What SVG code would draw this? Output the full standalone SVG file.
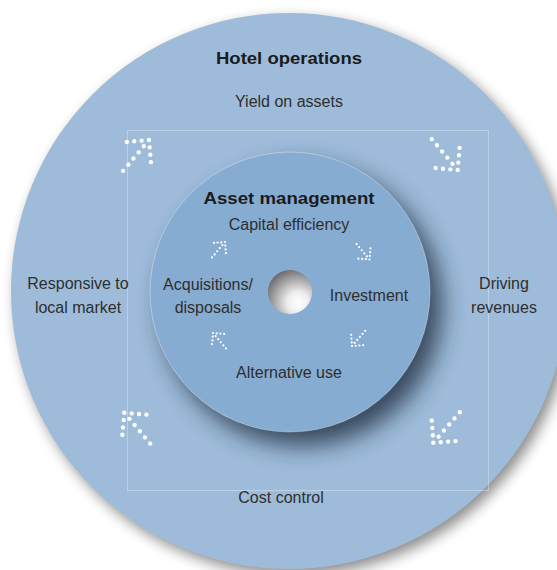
<svg xmlns="http://www.w3.org/2000/svg" width="557" height="570" viewBox="0 0 557 570">
  <style>
    .label { font-family: "Liberation Sans", Arial, sans-serif; font-size: 16px; fill: #2e2e2e; text-anchor: middle; }
    .title { font-family: "Liberation Sans", Arial, sans-serif; font-size: 17px; font-weight: bold; fill: #1b1b1b; text-anchor: middle; }
    .dot { fill: #ffffff; }
  </style>
  <defs>
    <filter id="softShadow" x="-20%" y="-20%" width="140%" height="140%">
      <feGaussianBlur stdDeviation="7"/>
    </filter>
    <filter id="deepShadow" x="-30%" y="-30%" width="160%" height="160%">
      <feGaussianBlur stdDeviation="12"/>
    </filter>
    <radialGradient id="hubFill" cx="0.68" cy="0.74" r="0.8">
      <stop offset="0" stop-color="#ffffff"/>
      <stop offset="0.3" stop-color="#eeeeee"/>
      <stop offset="1" stop-color="#686868"/>
    </radialGradient>
    <!-- dotted corner arrow pointing up-right; corner of the head at 0,0 -->
    <g id="dotArrow" class="dot">
      <circle cx="0" cy="0" r="2.2"/>
      <circle cx="-7.4" cy="0" r="2.2"/>
      <circle cx="-14.8" cy="0" r="2.2"/>
      <circle cx="-22.2" cy="0" r="2.2"/>
      <circle cx="0" cy="7.4" r="2.2"/>
      <circle cx="0" cy="14.8" r="2.2"/>
      <circle cx="0" cy="22.2" r="2.2"/>
      <circle cx="-5.7" cy="5.7" r="2.2"/>
      <circle cx="-11.4" cy="11.4" r="2.2"/>
      <circle cx="-17.1" cy="17.1" r="2.2"/>
      <circle cx="-22.8" cy="22.8" r="2.2"/>
      <circle cx="-28.5" cy="28.5" r="2.2"/>
    </g>
  </defs>

  <rect width="557" height="570" fill="#ffffff"/>

  <!-- outer ring: hotel operations -->
  <g id="hotel-operations">
    <circle cx="294" cy="297" r="278" fill="#000000" opacity="0.45" filter="url(#softShadow)"/>
    <circle cx="289" cy="291" r="278" fill="#9ebcda"/>
    <rect x="127.5" y="130.5" width="361" height="360" fill="none" stroke="#ffffff" stroke-opacity="0.3" stroke-width="1"/>
    <text class="title" x="289" y="64" textLength="146" lengthAdjust="spacingAndGlyphs">Hotel operations</text>
    <text class="label" x="289" y="107">Yield on assets</text>
    <text class="label" x="504" y="289">Driving</text>
    <text class="label" x="504" y="313">revenues</text>
    <text class="label" x="281" y="503">Cost control</text>
    <text class="label" x="78" y="289">Responsive to</text>
    <text class="label" x="78" y="313">local market</text>
  </g>

  <!-- inner disc: asset management -->
  <g id="asset-management">
    <circle cx="302" cy="306" r="140" fill="#1c2b3d" opacity="0.8" filter="url(#deepShadow)"/>
    <circle cx="290" cy="292" r="140" fill="#87acd1" stroke="#ffffff" stroke-opacity="0.35" stroke-width="1"/>
    <text class="title" x="289" y="204" textLength="171" lengthAdjust="spacingAndGlyphs">Asset management</text>
    <text class="label" x="289" y="230">Capital efficiency</text>
    <text class="label" x="369" y="301">Investment</text>
    <text class="label" x="289" y="378">Alternative use</text>
    <text class="label" x="208" y="290">Acquisitions/</text>
    <text class="label" x="208" y="313">disposals</text>
  </g>

  <!-- central hub -->
  <g id="hub">
    <circle cx="290" cy="292" r="22" fill="url(#hubFill)"/>
  </g>

  <!-- dotted arrows running round both rings -->
  <g id="connectors">
    <use href="#dotArrow" transform="translate(149,140) rotate(-5)"/>
    <use href="#dotArrow" transform="translate(457.7,170) rotate(95)"/>
    <use href="#dotArrow" transform="translate(433.3,442.7) rotate(176)"/>
    <use href="#dotArrow" transform="translate(124.3,412.7) rotate(275)"/>
    <use href="#dotArrow" transform="translate(225,242) rotate(-5) scale(0.5)"/>
    <use href="#dotArrow" transform="translate(369.5,259.5) rotate(95) scale(0.5)"/>
    <use href="#dotArrow" transform="translate(352,346) rotate(176) scale(0.5)"/>
    <use href="#dotArrow" transform="translate(213,333) rotate(275) scale(0.5)"/>
  </g>
</svg>
